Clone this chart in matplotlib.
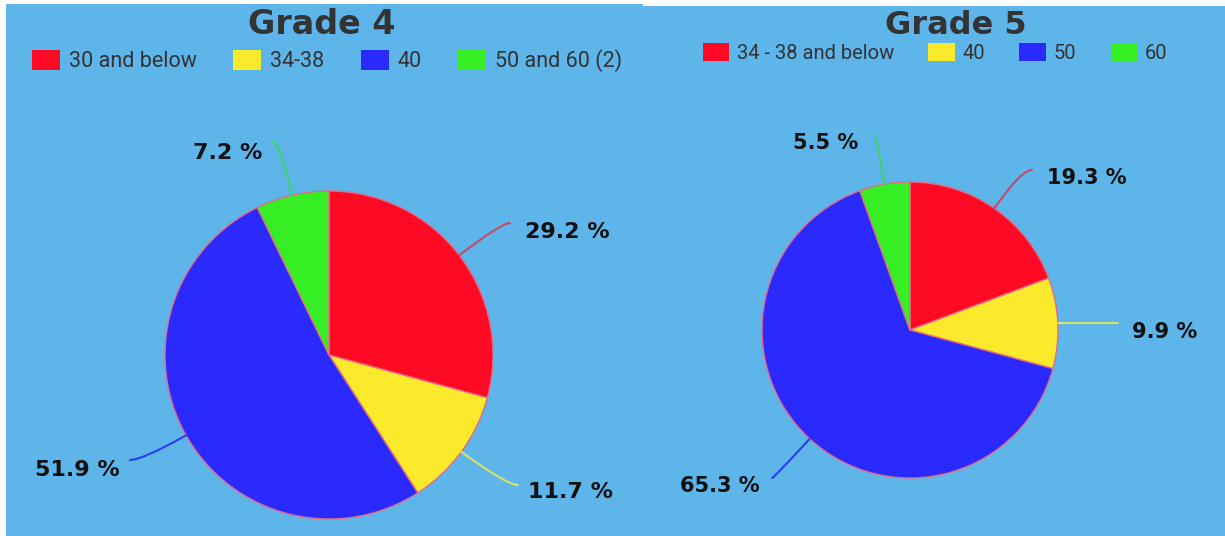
import matplotlib.pyplot as plt
from matplotlib.patches import Rectangle, Patch
import numpy as np

W, H = 1225, 536

# chart data
g4_labels = ["30 and below", "34-38", "40", "50 and 60 (2)"]
g4_values = [29.2, 11.7, 51.9, 7.2]
g5_labels = ["34 - 38 and below", "40", "50", "60"]
g5_values = [19.3, 9.9, 65.3, 5.5]

colors = ["#fe0a25", "#fbe92b", "#2a2aff", "#36ee24"]
line_colors = ["#c9466e", "#d6e36a", "#2b3ef0", "#3fd36a"]
bg = "#5db5e9"


def px_box(x0, y0, x1, y1):
    # pixel box (top-left origin) -> figure fraction [l, b, w, h]
    return [x0 / W, 1 - y1 / H, (x1 - x0) / W, (y1 - y0) / H]


fig = plt.figure(figsize=(W / 100, H / 100), dpi=100, facecolor="white")

# blue panels
for x0, y0, x1 in [(6, 4, 643), (643, 6, W)]:
    l, b, w, h = px_box(x0, y0, x1, H)
    fig.patches.append(Rectangle((l, b), w, h, transform=fig.transFigure,
                                 facecolor=bg, edgecolor="none", zorder=-10))


def draw_pie(cx, cy, r, values, texts, ends, straight, fs):
    ax = fig.add_axes(px_box(cx - r, cy - r, cx + r, cy + r))
    ax.set_facecolor("none")
    wedges, _ = ax.pie(values, colors=colors, startangle=90, counterclock=False,
                       wedgeprops=dict(edgecolor="#e26b86", linewidth=1, clip_on=False))
    ax.set_xlim(-1, 1)
    ax.set_ylim(-1, 1)
    ax.axis("off")
    for i, (wd, v) in enumerate(zip(wedges, values)):
        mid = (wd.theta1 + wd.theta2) / 2
        px, py = np.cos(np.deg2rad(mid)), np.sin(np.deg2rad(mid))
        cs = "arc3,rad=0" if straight[i] else f"angle3,angleA=0,angleB={mid}"
        ax.annotate("", xy=(px, py), xytext=ends[i], annotation_clip=False,
                    arrowprops=dict(arrowstyle="-", color=line_colors[i], lw=1.5,
                                    shrinkA=0, shrinkB=0, connectionstyle=cs))
        tx, ty, ha = texts[i]
        ax.text(tx, ty, f"{v} %", ha=ha, va="center", fontsize=fs,
                fontweight="bold", color="#111111", clip_on=False)
    return ax


draw_pie(329, 355, 164, g4_values,
         [(1.195, 0.75, "left"), (1.213, -0.835, "left"),
          (-1.274, -0.701, "right"), (-0.409, 1.232, "right")],
         [(1.104, 0.805), (1.152, -0.793), (-1.213, -0.640), (-0.348, 1.30)],
         [False, False, False, False], 16)

draw_pie(910, 330, 148, g5_values,
         [(0.926, 1.027, "left"), (1.5, -0.014, "left"),
          (-1.014, -1.054, "right"), (-0.351, 1.264, "right")],
         [(0.824, 1.081), (1.405, 0.047), (-0.932, -1.0), (-0.23, 1.304)],
         [False, True, False, True], 15)

# titles
fig.text(322 / W, 1 - 25 / H, "Grade 4", ha="center", va="center",
         fontsize=24, fontweight="bold", color="#333333")
fig.text(956 / W, 1 - 26 / H, "Grade 5", ha="center", va="center",
         fontsize=23, fontweight="bold", color="#333333")

# legends
for labels, cx, cy, fs in [(g4_labels, 327, 61, 15.5), (g5_labels, 935, 53, 14.5)]:
    handles = [Patch(facecolor=c, edgecolor="none") for c in colors]
    fig.legend(handles, labels, loc="center", bbox_to_anchor=(cx / W, 1 - cy / H),
               ncol=4, frameon=False, borderpad=0,
               prop={"family": "Roboto", "size": fs}, labelcolor="#333333",
               handlelength=1.3, handleheight=1.0, handletextpad=0.4,
               columnspacing=1.7)

fig.savefig("out.png", dpi=100, facecolor="white")
